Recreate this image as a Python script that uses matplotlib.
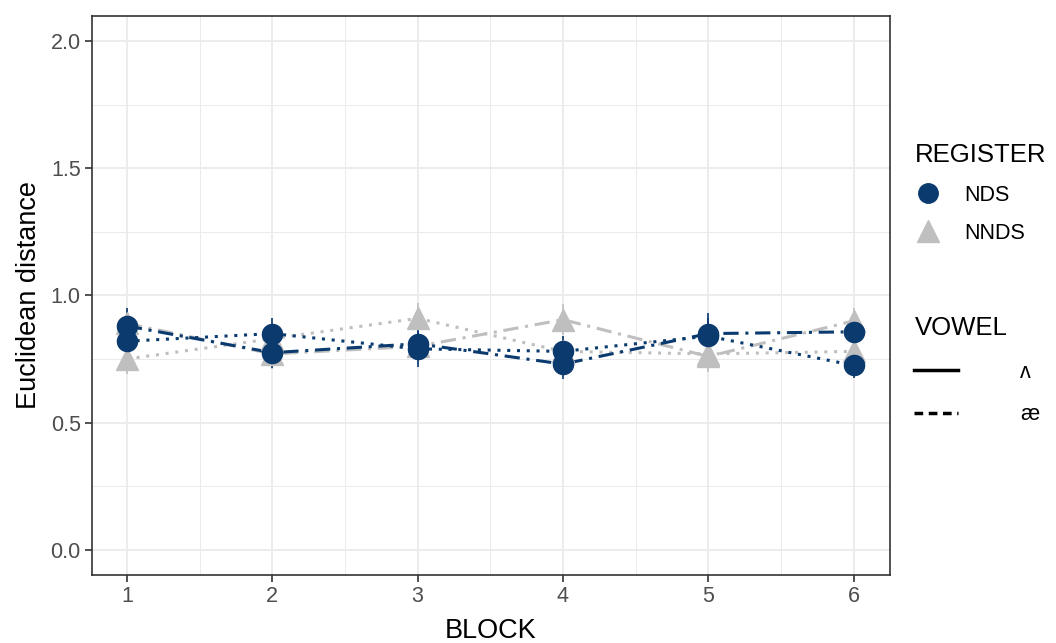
import matplotlib
matplotlib.use("Agg")
import matplotlib.pyplot as plt
from matplotlib.lines import Line2D
import numpy as np

plt.rcParams['font.family'] = ['Liberation Sans', 'DejaVu Sans']

blocks = [1, 2, 3, 4, 5, 6]
nds_wedge = [0.88, 0.775, 0.81, 0.73, 0.85, 0.857]
nds_ae = [0.82, 0.85, 0.79, 0.78, 0.84, 0.725]
nnds_wedge = [0.89, 0.77, 0.80, 0.905, 0.76, 0.90]
nnds_ae = [0.75, 0.83, 0.91, 0.78, 0.77, 0.78]
nds_wedge_err = [0.07, 0.06, 0.06, 0.06, 0.08, 0.05]
nds_ae_err = [0.06, 0.06, 0.07, 0.06, 0.07, 0.05]
nnds_wedge_err = [0.06, 0.06, 0.06, 0.06, 0.06, 0.05]
nnds_ae_err = [0.06, 0.06, 0.06, 0.06, 0.06, 0.05]

dark = '#0a3a6e'
grey = '#bfbfbf'
dashdot = (0, (5, 2.2, 1, 2.2))
dotted = (0, (1, 2.2))

fig = plt.figure(figsize=(10.56, 6.43), dpi=100)
ax = fig.add_axes([0.0871, 0.1058, 0.8428 - 0.0871, 0.9751 - 0.1058])

series = [
    (nnds_wedge, nnds_wedge_err, grey, '^', dashdot, 16.5),
    (nnds_ae, nnds_ae_err, grey, '^', dotted, 16.5),
    (nds_wedge, nds_wedge_err, dark, 'o', dashdot, 14.5),
    (nds_ae, nds_ae_err, dark, 'o', dotted, 14.5),
]
for vals, err, col, mk, ls, ms in series:
    ax.errorbar(blocks, vals, yerr=err, color=col, lw=0, elinewidth=1.2, capsize=0, zorder=2)
    ax.plot(blocks, vals, color=col, ls=ls, lw=2.2, zorder=3)
    ax.plot(blocks, vals, color=col, marker=mk, ms=ms, lw=0, zorder=4)

ax.set_xlim(0.76, 6.25)
ax.set_ylim(-0.1, 2.1)
ax.set_xticks(blocks)
ax.set_yticks([0.0, 0.5, 1.0, 1.5, 2.0])
ax.set_yticklabels(['0.0', '0.5', '1.0', '1.5', '2.0'])
ax.set_xticks([1.5, 2.5, 3.5, 4.5, 5.5], minor=True)
ax.set_yticks([0.25, 0.75, 1.25, 1.75], minor=True)
ax.grid(which='major', color='#ebebeb', lw=1.3, zorder=0)
ax.grid(which='minor', color='#ebebeb', lw=0.7, zorder=0)
ax.set_axisbelow(True)
ax.tick_params(which='major', length=5, width=1.2, color='#333333', labelsize=15.5, labelcolor='#4d4d4d', pad=3)
ax.tick_params(which='minor', length=0)
for s in ax.spines.values():
    s.set_color('#333333')
    s.set_linewidth(1.2)

ax.set_xlabel('BLOCK', fontsize=19.5, labelpad=8)
ax.set_ylabel('Euclidean distance', fontsize=19.5, labelpad=6)

reg_handles = [
    Line2D([0], [0], color=dark, marker='o', ms=14, lw=0),
    Line2D([0], [0], color=grey, marker='^', ms=16, lw=0),
]
leg1 = fig.legend(reg_handles, ['NDS', 'NNDS'], title='REGISTER', loc='upper left',
                  bbox_to_anchor=(0.866, 0.777), frameon=False, fontsize=15.5,
                  title_fontsize=18.5, handlelength=1.3, handletextpad=1.0,
                  labelspacing=0.8, alignment='left', borderpad=0, borderaxespad=0)
vow_handles = [
    Line2D([0], [0], color='black', lw=2.5, ls='-'),
    Line2D([0], [0], color='black', lw=2.5, ls=(0, (2.5, 1.6))),
]
leg2 = fig.legend(vow_handles, ['ʌ', 'æ'], title='VOWEL', loc='upper left',
                  bbox_to_anchor=(0.866, 0.508), frameon=False, fontsize=15.5,
                  title_fontsize=18.5, handlelength=2.0, handletextpad=2.9,
                  labelspacing=1.0, alignment='left', borderpad=0, borderaxespad=0)

fig.savefig('out.png', dpi=100)
